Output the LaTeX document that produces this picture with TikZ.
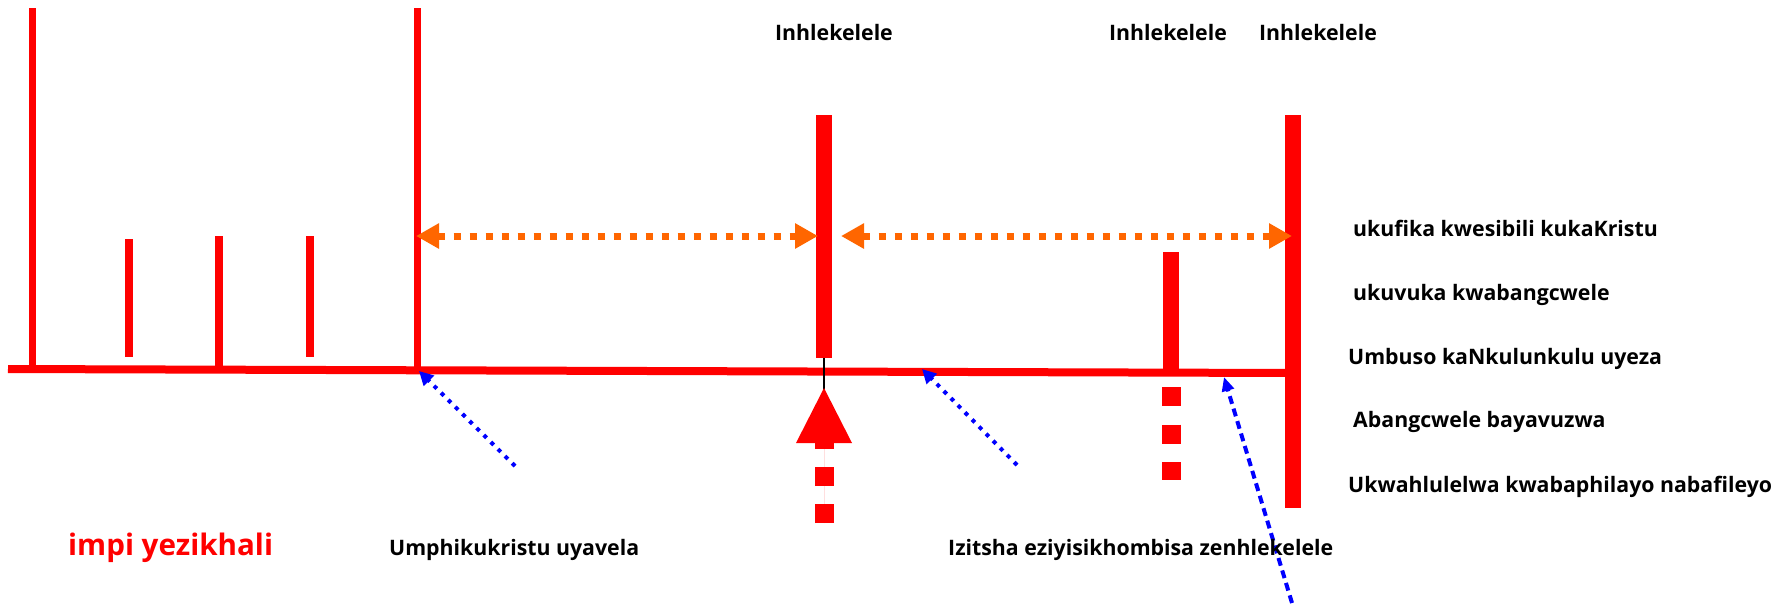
\documentclass[tikz,border=0pt]{standalone}
\usepackage{fontspec}
\setmainfont{Open Sans}
\usetikzlibrary{arrows.meta}
\definecolor{barred}{RGB}{255,0,0}
\definecolor{arrorange}{RGB}{255,102,0}
\definecolor{arrblue}{RGB}{0,0,255}
\tikzset{
  bar/.style={draw=barred, line width=#1},
  orangearrow/.style={draw=arrorange, line width=7, dash pattern=on 7 off 9,
    {Triangle[length=23,width=24]}-{Triangle[length=23,width=24]}},
  bluedot/.style={draw=arrblue, line width=4, dash pattern=on 4 off 6,
    -{Triangle[length=14,width=14]}},
  bluedash/.style={draw=arrblue, line width=4, dash pattern=on 8 off 5,
    -{Triangle[length=14,width=12]}},
  lbl/.style={inner sep=0pt, font=\fontsize{21.3}{25}\selectfont\bfseries},
  bigred/.style={inner sep=0pt, text=barred, font=\fontsize{29.6}{34}\selectfont\bfseries},
}
\begin{document}
\begin{tikzpicture}[x=1pt,y=-1pt]
\useasboundingbox (0,0) rectangle (1779,606);

% named coordinates
\coordinate (lineL) at (8,369);
\coordinate (lineR) at (1292,373);
\coordinate (b1top) at (32.5,8);   \coordinate (b1bot) at (32.5,369);
\coordinate (t1top) at (129,239);  \coordinate (t1bot) at (129,357);
\coordinate (t2top) at (219,236);  \coordinate (t2bot) at (219,369);
\coordinate (t3top) at (310,236);  \coordinate (t3bot) at (310,357);
\coordinate (b2top) at (417,8);    \coordinate (b2bot) at (417,369);
\coordinate (b3top) at (824,115);  \coordinate (b3bot) at (824,358);
\coordinate (b4top) at (1171,252); \coordinate (b4bot) at (1171,372);
\coordinate (b5top) at (1292.5,115); \coordinate (b5bot) at (1292.5,508);

% main timeline
\draw[bar=8] (lineL) -- (lineR);
% vertical bars
\draw[bar=7] (b1top) -- (b1bot);
\draw[bar=8] (t1top) -- (t1bot);
\draw[bar=8] (t2top) -- (t2bot);
\draw[bar=8] (t3top) -- (t3bot);
\draw[bar=7] (b2top) -- (b2bot);
\draw[bar=16] (b3top) -- (b3bot);
\draw[bar=16] (b4top) -- (b4bot);
\draw[bar=16] (b5top) -- (b5bot);

% dashed red stem below bar 4
\coordinate (d4top) at (1171,387);
\coordinate (d4bot) at (1171,480);
\draw[draw=barred, line width=19, dash pattern=on 19 off 18.5] (d4top) -- (d4bot);

% black connector under bar 3
\coordinate (blk) at (824,392);
\draw[line width=2, black] (b3bot) -- (blk);

% big red up arrow
\coordinate (bigtail) at (824,523);
\coordinate (bigtip) at (824,388);
\draw[draw=barred, fill=barred, line width=19, dash pattern=on 19 off 18,
  -{Triangle[length=55,width=56,line width=0pt]}] (bigtail) -- (bigtip);

% orange double arrows
\coordinate (o1L) at (416,236); \coordinate (o1R) at (818,236);
\coordinate (o2L) at (841,236); \coordinate (o2R) at (1292,236);
\draw[orangearrow] (o1L) -- (o1R);
\draw[orangearrow] (o2L) -- (o2R);

% blue arrows
\coordinate (bl1s) at (515,466); \coordinate (bl1e) at (419,371);
\coordinate (bl2s) at (1017,465); \coordinate (bl2e) at (922,369);
\coordinate (bl3s) at (1292,603); \coordinate (bl3e) at (1224,377);
\draw[bluedot] (bl1s) -- (bl1e);
\draw[bluedot] (bl2s) -- (bl2e);
\draw[bluedash] (bl3s) -- (bl3e);

% top labels
\node[lbl, anchor=base] (i1) at (834,40) {Inhlekelele};
\node[lbl, anchor=base] (i2) at (1168,40) {Inhlekelele};
\node[lbl, anchor=base] (i3) at (1318,40) {Inhlekelele};

% right labels
\node[lbl, anchor=base west] (r1) at (1353,236) {ukufika kwesibili kukaKristu};
\node[lbl, anchor=base west] (r2) at (1353,300) {ukuvuka kwabangcwele};
\node[lbl, anchor=base west] (r3) at (1348,364) {Umbuso kaNkulunkulu uyeza};
\node[lbl, anchor=base west] (r4) at (1353,427) {Abangcwele bayavuzwa};
\node[lbl, anchor=base west] (r5) at (1348,492) {Ukwahlulelwa kwabaphilayo nabafileyo};

% bottom labels
\node[bigred, anchor=base west] (impi) at (68,555) {impi yezikhali};
\node[lbl, anchor=base west] (anti) at (389,555) {Umphikukristu uyavela};
\node[lbl, anchor=base west] (izit) at (948,555) {Izitsha eziyisikhombisa zenhlekelele};
\end{tikzpicture}
\end{document}
